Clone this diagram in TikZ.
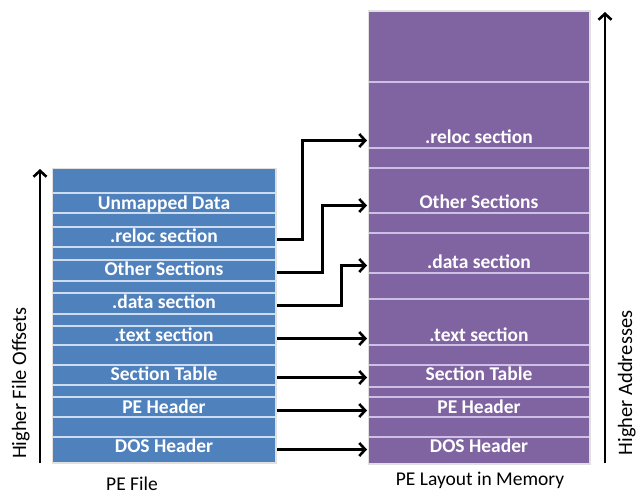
\documentclass[tikz,border=0pt]{standalone}
\usepackage{fontspec}
\setmainfont{Carlito}
\usepackage{tikz}
\usetikzlibrary{arrows.meta}

\definecolor{fileblue}{RGB}{79,129,189}
\definecolor{filesep}{RGB}{205,220,238}
\definecolor{mempurple}{RGB}{128,100,162}
\definecolor{memsep}{RGB}{204,193,228}

\begin{document}
\begin{tikzpicture}[x=1pt,y=-1pt,
		>={Straight Barb[length=6pt,width=13pt]},
		block/.style={anchor=north west,inner sep=0pt,minimum width=#1},
		strip/.style={text=white,font=\bfseries\fontsize{19.5}{21}\selectfont,inner sep=0pt,text height=0.644em,text depth=0pt,yshift=-2.5pt},
		caption/.style={font=\fontsize{19.5}{21}\selectfont,inner sep=0pt,text height=0.644em,text depth=0pt},
		link/.style={->,line width=2.6pt,shorten <=2pt,shorten >=2pt}]
	\useasboundingbox (0,0) rectangle (640,495);

	% file on disk
	\fill[black!12] (51.5,167.5) rectangle (276.5,464);
	\node[block=222pt,minimum height=293pt,fill=fileblue] (file) at (53,169) {};
	\foreach \y in {193,213,227,247,260,281,293,314,326,345,365,385,397,417,437}
		\draw[filesep,line width=1.6pt] (53,\y) -- (275,\y);
	\node[strip] (funmap) at (164,204) {Unmapped Data};
	\node[strip] (freloc) at (164,237) {.reloc section};
	\node[strip] (fother) at (164,270) {Other Sections};
	\node[strip] (fdata) at (164,303) {.data section};
	\node[strip] (ftext) at (164,336) {.text section};
	\node[strip] (fsect) at (164,375) {Section Table};
	\node[strip] (fpe) at (164,408) {PE Header};
	\node[strip] (fdos) at (164,447) {DOS Header};

	% image in memory
	\fill[black!12] (367.5,10.5) rectangle (590.5,465);
	\node[block=220pt,minimum height=451pt,fill=mempurple] (mem) at (369,12) {};
	\foreach \y in {82,148,168,213,233,273,299,345,365,387,397,417,437}
		\draw[memsep,line width=1.6pt] (369,\y) -- (589,\y);
	\node[strip] (mreloc) at (479,138) {.reloc section};
	\node[strip] (mother) at (479,203) {Other Sections};
	\node[strip] (mdata) at (479,263) {.data section};
	\node[strip] (mtext) at (479,336) {.text section};
	\node[strip] (msect) at (479,375) {Section Table};
	\node[strip] (mpe) at (479,408) {PE Header};
	\node[strip] (mdos) at (479,447) {DOS Header};

	% mapping
	\draw[link] (fdos -| file.east) -- (mdos -| mem.west);
	\draw[link] (fpe -| file.east) -- (mpe -| mem.west);
	\draw[link] (fsect -| file.east) -- (msect -| mem.west);
	\draw[link] (ftext -| file.east) -- (mtext -| mem.west);
	\draw[link] (fdata -| file.east) -- ++(66,0) |- (mdata -| mem.west);
	\draw[link] (fother -| file.east) -- ++(47,0) |- (mother -| mem.west);
	\draw[link] (freloc -| file.east) -- ++(27,0) |- (mreloc -| mem.west);

	% direction arrows
	\coordinate (flow) at (40,463);
	\coordinate (fhigh) at (40,169);
	\coordinate (mlow) at (605,463);
	\coordinate (mhigh) at (605,12);
	\draw[->,line width=2.6pt] (flow) -- (fhigh);
	\draw[->,line width=2.6pt] (mlow) -- (mhigh);

	\node[caption,rotate=90,font=\fontsize{20.5}{22}\selectfont] (foff) at (23,383) {Higher File Offsets};
	\node[caption,rotate=90,font=\fontsize{20.5}{22}\selectfont] (maddr) at (629,383) {Higher Addresses};
	\node[caption] (fcap) at (132,487) {PE File};
	\node[caption] (mcap) at (480,482) {PE Layout in Memory};
\end{tikzpicture}
\end{document}
